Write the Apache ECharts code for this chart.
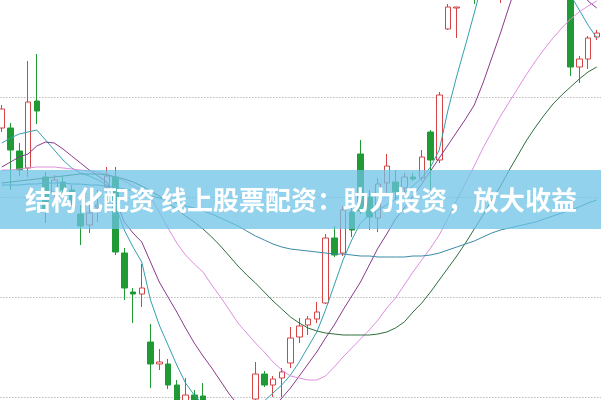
<!DOCTYPE html>
<html><head><meta charset="utf-8">
<script src="https://cdn.jsdelivr.net/npm/echarts@6/dist/echarts.min.js"></script>
<style>html,body{margin:0;padding:0;background:#fff}#c{width:601px;height:400px}</style>
</head><body><div id="c"></div>
<script>
const days = Array.from({length: 69}, (_, i) => 'D' + (i + 1));
const opens  = [7.69,7.69,7.46,7.29,7.96,7.20,7.05,7.15,7.07,6.83,6.72,6.90,7.10,7.20,6.44,6.05,6.03,5.55,5.33,5.33,5.12,4.89,5.02,5.01,4.85,4.69,4.77,4.61,4.69,4.98,5.23,5.12,5.19,5.34,5.60,5.72,5.78,5.94,6.59,6.44,6.85,7.43,7.00,6.79,7.14,7.15,7.09,7.20,7.19,7.65,7.37,8.68,8.89,9.02,9.27,9.12,9.42,9.67,9.92,10.17,9.97,10.22,9.92,9.67,9.82,9.52,8.30,8.38,8.60];
const closes = [7.88,7.47,7.27,7.95,7.86,6.86,7.17,7.07,6.97,6.71,6.84,6.92,7.21,6.45,6.09,6.03,6.09,5.33,5.35,5.12,4.92,5.02,4.89,4.85,4.72,4.79,4.62,4.72,4.85,5.23,5.12,5.18,5.25,5.59,5.71,5.78,5.85,6.59,6.42,6.87,6.67,6.86,6.80,7.13,7.31,7.05,7.20,7.18,7.40,7.37,8.02,8.90,8.90,9.27,9.12,9.42,9.67,9.92,10.17,9.97,10.22,9.92,9.67,9.82,9.52,8.30,8.38,8.59,8.64];
const lows   = [7.65,7.07,7.21,7.20,7.73,6.74,6.97,7.02,6.91,6.52,6.64,6.75,7.07,6.42,5.97,5.74,5.90,5.09,5.27,5.08,4.87,4.85,4.82,4.77,4.65,4.65,4.57,4.55,4.65,4.95,5.10,5.00,5.00,5.29,5.54,5.62,5.74,5.93,6.40,6.41,6.60,6.83,6.67,6.65,7.04,6.97,7.04,7.16,7.16,7.07,7.34,8.67,8.59,8.99,8.93,9.07,9.35,8.94,9.85,9.87,9.89,9.82,9.57,9.52,9.37,8.21,8.14,8.28,8.57];
const highs  = [7.92,7.74,7.54,8.36,8.43,7.25,7.22,7.21,7.12,6.92,6.97,7.07,7.30,7.30,6.49,6.09,6.33,5.73,5.48,5.38,5.17,5.19,5.07,5.14,4.92,4.87,4.83,4.79,4.89,5.35,5.26,5.21,5.29,5.70,5.79,5.81,5.95,6.63,6.71,6.91,6.91,7.57,7.07,7.19,7.43,7.27,7.24,7.24,7.47,7.67,8.05,8.93,8.90,9.35,9.42,9.52,9.77,10.02,10.27,10.32,10.37,10.32,10.07,9.92,9.97,9.57,8.41,8.61,8.67];
const ma5   = [7.54,7.59,7.63,7.65,7.67,7.57,7.47,7.37,7.29,7.24,7.21,7.17,7.12,6.92,6.67,6.50,6.35,5.97,5.72,5.52,5.32,5.14,5.02,4.93,4.84,4.77,4.72,4.69,4.75,4.85,4.96,5.04,5.12,5.22,5.35,5.50,5.65,5.87,6.12,6.37,6.57,6.74,6.82,6.87,6.92,6.98,7.04,7.11,7.19,7.30,7.47,7.87,8.21,8.52,8.84,9.17,9.47,9.72,9.92,10.05,10.09,10.07,9.97,9.77,9.42,9.02,8.87,8.72,8.59];
const ma10  = [7.30,7.35,7.40,7.43,7.51,7.55,7.54,7.48,7.41,7.34,7.27,7.21,7.15,6.97,6.75,6.64,6.55,6.35,6.15,6.00,5.85,5.69,5.54,5.41,5.29,5.16,5.03,4.92,4.85,4.80,4.81,4.87,4.99,5.09,5.21,5.33,5.45,5.59,5.72,5.87,6.01,6.15,6.32,6.49,6.63,6.78,6.89,7.01,7.13,7.26,7.39,7.52,7.65,7.78,7.92,8.14,8.39,8.64,8.91,9.17,9.37,9.49,9.55,9.52,9.42,9.27,9.11,8.96,8.89];
const ma20  = [7.27,7.27,7.28,7.29,7.30,7.30,7.30,7.29,7.28,7.27,7.26,7.25,7.23,7.20,7.16,7.11,7.07,7.00,6.85,6.69,6.54,6.42,6.33,6.25,6.12,6.00,5.87,5.74,5.64,5.54,5.45,5.35,5.27,5.21,5.19,5.17,5.17,5.21,5.30,5.40,5.49,5.58,5.67,5.77,5.89,5.99,6.12,6.25,6.37,6.49,6.62,6.79,6.97,7.14,7.31,7.49,7.65,7.81,7.95,8.09,8.23,8.36,8.48,8.59,8.69,8.78,8.85,8.91,8.96];
const ma60  = [7.14,7.15,7.16,7.17,7.18,7.19,7.20,7.21,7.22,7.23,7.23,7.23,7.22,7.20,7.18,7.15,7.11,7.06,7.01,6.94,6.88,6.81,6.75,6.68,6.60,6.51,6.41,6.31,6.22,6.14,6.05,5.96,5.88,5.80,5.74,5.69,5.66,5.64,5.63,5.62,5.62,5.62,5.62,5.63,5.65,5.69,5.75,5.85,5.94,6.05,6.17,6.29,6.41,6.54,6.68,6.82,6.97,7.11,7.27,7.42,7.57,7.70,7.82,7.93,8.02,8.10,8.18,8.25,8.30];
const ma120 = [7.12,7.12,7.12,7.13,7.13,7.14,7.14,7.14,7.13,7.13,7.12,7.12,7.11,7.10,7.08,7.06,7.04,7.01,6.99,6.96,6.94,6.91,6.89,6.86,6.83,6.79,6.75,6.71,6.66,6.61,6.57,6.53,6.50,6.48,6.47,6.46,6.45,6.44,6.43,6.43,6.42,6.41,6.41,6.40,6.40,6.40,6.40,6.41,6.41,6.42,6.44,6.47,6.50,6.53,6.56,6.60,6.64,6.67,6.69,6.71,6.73,6.75,6.78,6.81,6.84,6.87,6.90,6.94,6.97];
const yTicks = [4, 9, 1];
const bannerText = '结构化配资 线上股票配资：助力投资，放大收益';

const chart = echarts.init(document.getElementById('c'), null, {renderer: 'canvas'});
const candles = opens.map((o, i) => [o, closes[i], lows[i], highs[i]]);
const mkLine = (name, data, color) => ({
  name, type: 'line', data, symbol: 'none', smooth: false, silent: true, z: 5,
  lineStyle: {color, width: 1}, itemStyle: {color}
});
chart.setOption({
  animation: false,
  backgroundColor: '#ffffff',
  grid: {left: -2.625, width: 603.75, top: -3, height: 500, outerBoundsMode: 'none', containLabel: false},
  xAxis: {type: 'category', data: days, show: false, boundaryGap: true},
  yAxis: {
    type: 'value', min: yTicks[0], max: yTicks[1], interval: yTicks[2],
    axisLine: {show: false}, axisTick: {show: false}, axisLabel: {show: false},
    splitLine: {show: true, lineStyle: {color: '#9a9a9a', type: [1, 2], width: 1}}
  },
  series: [
    {type: 'candlestick', data: candles, barWidth: 6, z: 3,
     itemStyle: {color: '#ffffff', color0: '#1f9a35', borderColor: '#d44444', borderColor0: '#1f9a35', borderWidth: 1}},
    mkLine('MA5', ma5, '#33a0b0'),
    mkLine('MA10', ma10, '#8a3a8a'),
    mkLine('MA20', ma20, '#e08ee0'),
    mkLine('MA60', ma60, '#2f6e3c'),
    mkLine('MA120', ma120, '#3a8aa6')
  ],
  graphic: [
    {type: 'rect', z: 100, shape: {x: 0, y: 170, width: 601, height: 59}, style: {fill: 'rgba(110,195,230,0.75)'}},
    {type: 'text', z: 101, x: 301, y: 200,
     style: {text: bannerText, fill: '#ffffff', font: 'bold 26px "Noto Sans CJK SC"', textAlign: 'center', textVerticalAlign: 'middle'}}
  ]
});
</script>
</body></html>
